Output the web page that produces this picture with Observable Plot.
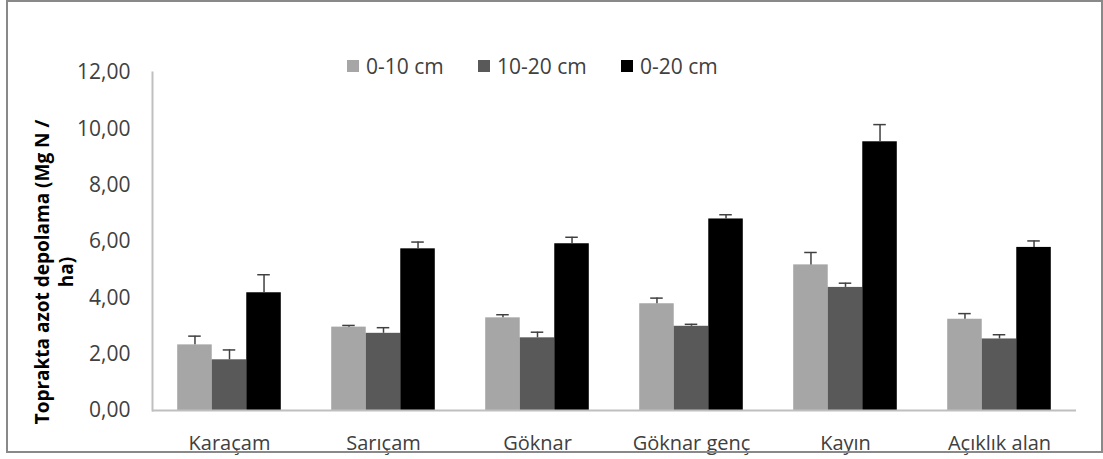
<!DOCTYPE html>
<html>
<head>
<meta charset="utf-8">
<script src="https://cdn.jsdelivr.net/npm/d3@7"></script>
<script src="https://cdn.jsdelivr.net/npm/@observablehq/plot@0.6"></script>
<style>
  html, body { margin: 0; padding: 0; background: #fff; }
  #wrap { position: relative; width: 1103px; height: 459px; font-family: "Open Sans", sans-serif; }
  #border { position: absolute; left: 6px; top: 0px; width: 1097px; height: 453px; box-sizing: border-box; border: 2px solid #898989; pointer-events: none; }
  #ytitle { position: absolute; left: -121px; top: 248px; width: 350px; height: 48px; line-height: 24px; text-align: center;
            transform: rotate(-90deg); transform-origin: 175px 24px; font-weight: bold; font-size: 19px; color: #000; }
  .leg { position: absolute; top: 53px; height: 26px; display: flex; align-items: center; font-size: 21px; color: #404040; white-space: nowrap; }
  .leg .sw { width: 12px; height: 12px; margin-right: 7px; }
  #chart svg g[aria-label="y-axis tick label"] { font-size: 21px; }
</style>
</head>
<body>
<div id="wrap">
  <div id="chart"></div>
  <div id="ytitle">Toprakta  azot depolama (Mg N /<br>ha)</div>
  <div id="legend"></div>
  <div id="border"></div>
</div>
<script>
const categories = ["Karaçam", "Sarıçam", "Göknar", "Göknar genç", "Kayın", "Açıklık alan"];
const series = ["0-10 cm", "10-20 cm", "0-20 cm"];
const colors = ["#a6a6a6", "#595959", "#000000"];
const values0_10  = [2.33, 2.96, 3.29, 3.79, 5.17, 3.24];
const values10_20 = [1.80, 2.74, 2.58, 2.99, 4.37, 2.54];
const values0_20  = [4.18, 5.74, 5.92, 6.80, 9.54, 5.79];
const err0_10  = [0.31, 0.06, 0.11, 0.20, 0.44, 0.20];
const err10_20 = [0.35, 0.20, 0.20, 0.07, 0.15, 0.15];
const err0_20  = [0.64, 0.24, 0.23, 0.15, 0.61, 0.23];
const yTicks = [0, 2, 4, 6, 8, 10, 12];

const valueSets = [values0_10, values10_20, values0_20];
const errSets = [err0_10, err10_20, err0_20];
const data = categories.flatMap((c, i) => series.map((s, j) => ({
  cat: c, series: s, value: valueSets[j][i], err: errSets[j][i]
})));

const errColor = "#404040";
const axisColor = "#bfbfbf";

const chart = Plot.plot({
  width: 1103,
  height: 459,
  marginLeft: 149,
  marginRight: 25,
  marginTop: 72,
  marginBottom: 49,
  style: { fontFamily: "'Open Sans', sans-serif", fontSize: "20px", color: "#404040", background: "transparent" },
  fx: { domain: categories, padding: 0, label: null, axis: "bottom", tickSize: 0, tickPadding: 25 },
  x: { domain: series, paddingInner: 0, paddingOuter: 0.73, axis: null, round: false },
  y: { domain: [0, 12], ticks: yTicks, tickFormat: d => d.toFixed(2).replace(".", ","), tickSize: 0, tickPadding: 22, label: null },
  color: { domain: series, range: colors },
  marks: [
    Plot.barY(data, { fx: "cat", x: "series", y: "value", fill: "series" }),
    Plot.ruleX(data, { fx: "cat", x: "series", y1: "value", y2: d => d.value + d.err, stroke: errColor, strokeWidth: 1.5 }),
    Plot.tickY(data, { fx: "cat", x: "series", y: d => d.value + d.err, stroke: errColor, strokeWidth: 1.5, insetLeft: 11, insetRight: 11 }),
    Plot.ruleY([0], { stroke: axisColor, strokeWidth: 2 }),
    Plot.frame({ anchor: "left", facet: "super", stroke: axisColor, strokeWidth: 2 })
  ]
});
document.getElementById("chart").appendChild(chart);

const legendLefts = [347, 478, 621];
const legend = document.getElementById("legend");
series.forEach((s, i) => {
  const item = document.createElement("div");
  item.className = "leg";
  item.style.left = legendLefts[i] + "px";
  const sw = document.createElement("span");
  sw.className = "sw";
  sw.style.background = colors[i];
  const t = document.createElement("span");
  t.textContent = s;
  item.appendChild(sw);
  item.appendChild(t);
  legend.appendChild(item);
});
</script>
</body>
</html>
